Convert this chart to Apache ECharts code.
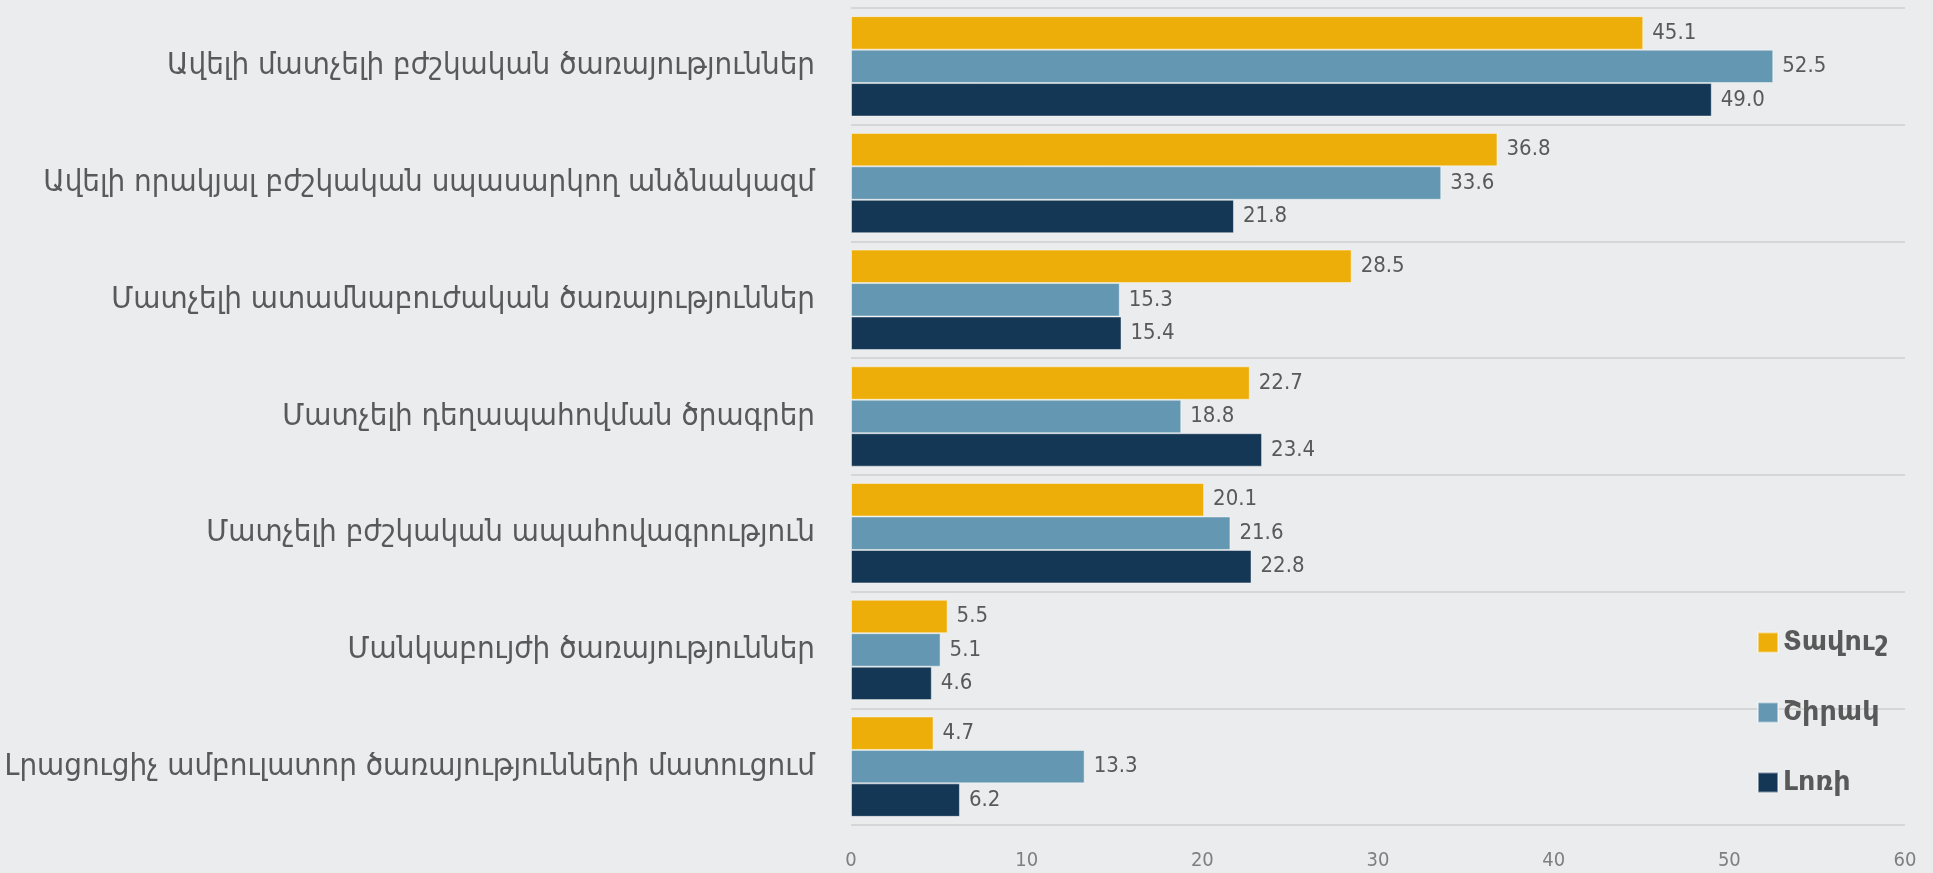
<!DOCTYPE html>
<html>
<head>
<meta charset="utf-8">
<script src="https://cdn.jsdelivr.net/npm/echarts@6/dist/echarts.min.js"></script>
<style>
html, body { margin: 0; padding: 0; background: #ebeced; }
#chart { width: 1933px; height: 873px; }
</style>
</head>
<body>
<div id="chart"></div>
<script>
// categories, top to bottom
var categories = [
	'Ավելի մատչելի բժշկական ծառայություններ',
	'Ավելի որակյալ բժշկական սպասարկող անձնակազմ',
	'Մատչելի ատամնաբուժական ծառայություններ',
	'Մատչելի դեղապահովման ծրագրեր',
	'Մատչելի բժշկական ապահովագրություն',
	'Մանկաբույժի ծառայություններ',
	'Լրացուցիչ ամբուլատոր ծառայությունների մատուցում'
];
var seriesNames = ['Տավուշ', 'Շիրակ', 'Լոռի'];
var tavush = [45.1, 36.8, 28.5, 22.7, 20.1, 5.5, 4.7];
var shirak = [52.5, 33.6, 15.3, 18.8, 21.6, 5.1, 13.3];
var lori = [49.0, 21.8, 15.4, 23.4, 22.8, 4.6, 6.2];
var colors = ['#edae09', '#6497b1', '#143755'];

var chart = echarts.init(document.getElementById('chart'));
var font = '"DejaVu Sans Condensed", "DejaVu Sans", sans-serif';

function makeSeries(name, data, color) {
	return {
		name: name,
		type: 'bar',
		data: data,
		barGap: '0%',
		barCategoryGap: '14%',
		itemStyle: { color: color, borderColor: 'rgba(255,255,255,0.45)', borderWidth: 1 },
		label: {
			show: true,
			position: 'right',
			distance: 9,
			color: '#595959',
			fontFamily: font,
			fontSize: 22,
			formatter: function (p) { return p.value.toFixed(1); }
		}
	};
}

chart.setOption({
	backgroundColor: '#ebeced',
	color: colors,
	textStyle: { fontFamily: font },
	grid: { left: 851, right: 28, top: 8, bottom: 48 },
	legend: {
		orient: 'vertical',
		left: 1752,
		top: 624,
		itemGap: 43,
		itemWidth: 20,
		itemHeight: 20,
		icon: 'rect',
		textStyle: { color: '#595959', fontSize: 27, fontWeight: 'bold', fontFamily: '"DejaVu Sans", sans-serif' }
	},
	xAxis: {
		type: 'value',
		min: 0,
		max: 60,
		interval: 10,
		axisLine: { show: false },
		axisTick: { show: false },
		splitLine: { show: false },
		axisLabel: { color: '#7f7f7f', fontSize: 20, margin: 26, fontFamily: font }
	},
	yAxis: {
		type: 'category',
		inverse: true,
		data: categories,
		axisLine: { show: false },
		axisTick: { show: false },
		splitLine: { show: true, lineStyle: { color: '#d6d6d6', width: 2 } },
		axisLabel: { color: '#595959', fontSize: 31, margin: 36, fontFamily: font }
	},
	series: [
		makeSeries(seriesNames[0], tavush, colors[0]),
		makeSeries(seriesNames[1], shirak, colors[1]),
		makeSeries(seriesNames[2], lori, colors[2])
	]
});

window.onresize = function () {
	chart.resize();
};
</script>
</body>
</html>
